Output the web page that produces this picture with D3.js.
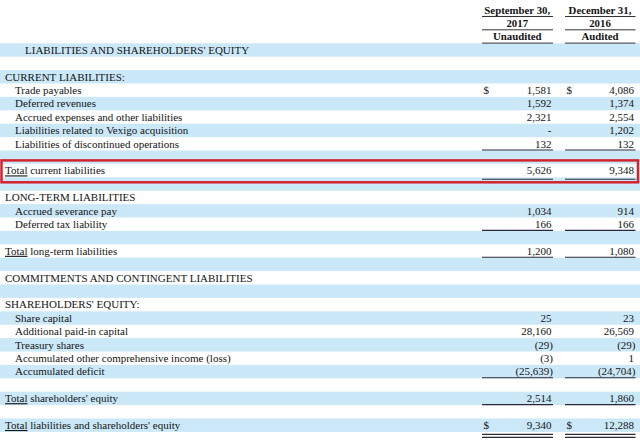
<!DOCTYPE html>
<html><head><meta charset="utf-8">
<script src="https://cdn.jsdelivr.net/npm/d3@7"></script>
<style>
html,body{margin:0;padding:0;background:#fff;}
svg{display:block;font-family:"Liberation Serif","Times New Roman",serif;}
</style></head>
<body>
<svg id="chart" width="640" height="447"></svg>
<script>
// ---- data ----
const headerLines = [["September 30,", "December 31,"], ["2017", "2016"], ["Unaudited", "Audited"]];
const columns = ["2017", "2016"];
const labels = [
  "LIABILITIES AND SHAREHOLDERS' EQUITY", "",
  "CURRENT LIABILITIES:", "Trade payables", "Deferred revenues",
  "Accrued expenses and other liabilities", "Liabilities related to Vexigo acquisition",
  "Liabilities of discontinued operations", "", "Total current liabilities", "",
  "LONG-TERM LIABILITIES", "Accrued severance pay", "Deferred tax liability", "",
  "Total long-term liabilities", "", "COMMITMENTS AND CONTINGENT LIABILITIES", "",
  "SHAREHOLDERS' EQUITY:", "Share capital", "Additional paid-in capital", "Treasury shares",
  "Accumulated other comprehensive income (loss)", "Accumulated deficit", "",
  "Total shareholders' equity", "", "Total liabilities and shareholders' equity"
];
const indent = [2,0,0,1,1,1,1,1,0,0,0,0,1,1,0,0,0,0,0,0,1,1,1,1,1,0,0,0,0];
const values2017 = [null,null,null,1581,1592,2321,"-",132,null,5626,null,null,1034,166,null,1200,null,null,null,null,25,28160,-29,-3,-25639,null,2514,null,9340];
const values2016 = [null,null,null,4086,1374,2554,1202,132,null,9348,null,null,914,166,null,1080,null,null,null,null,23,26569,-29,1,-24704,null,1860,null,12288];
const dollarRows = [3, 28];
const singleRuleRows = [7, 9, 13, 15, 24, 26];
const doubleRuleRows = [28];
const highlightRow = 9;

// ---- drawing ----
const svg = d3.select("#chart");
const W = 640;
const y = d3.scaleBand().domain(d3.range(labels.length)).range([43.3, 43.3 + labels.length * 13.4]);
const colRight = d3.scaleOrdinal().domain(columns).range([551.5, 634]);
const colLeft = d3.scaleOrdinal().domain(columns).range([482, 565]);
const indentX = d3.scaleOrdinal().domain([0,1,2]).range([5, 15, 25]);
const ink = "#141414";
const fmt = d3.format(",");
const fmtVal = v => v === null ? "" : (typeof v === "string" ? v : (v < 0 ? "(" + fmt(-v) + ")" : fmt(v)));

// bands
svg.append("g").selectAll("rect").data(d3.range(labels.length).filter(i => i % 2 === 0)).join("rect")
  .attr("x", 0).attr("width", W).attr("y", i => y(i)).attr("height", y.bandwidth())
  .attr("fill", "#cbe8f9");

// header
const hdr = svg.append("g").attr("font-weight", "bold").attr("font-size", 10.8).attr("fill", ink).attr("text-anchor", "middle");
headerLines.forEach((pair, li) => {
  columns.forEach((c, ci) => {
    const cx = (colLeft(c) + colRight(c) + 1) / 2;
    hdr.append("text").attr("x", cx).attr("y", 13.5 + li * 13.3).text(pair[ci]);
    svg.append("line").attr("x1", colLeft(c)).attr("x2", colRight(c) + 1.5)
      .attr("y1", 16.5 + li * 13.3).attr("y2", 16.5 + li * 13.3)
      .attr("stroke", "#333").attr("stroke-width", 1);
  });
});

// labels
const lab = svg.append("g").attr("font-size", 11).attr("fill", ink);
labels.forEach((t, i) => {
  if (!t) return;
  const tx = lab.append("text").attr("x", indentX(indent[i])).attr("y", y(i) + y.bandwidth() / 2 + 3.8);
  if (t.startsWith("Total")) {
    tx.append("tspan").attr("text-decoration", "underline").style("text-decoration", "underline").text("Total");
    tx.append("tspan").text(t.slice(5));
  } else tx.text(t);
});

// values
const vals = svg.append("g").attr("font-size", 11).attr("fill", ink);
[values2017, values2016].forEach((arr, ci) => {
  const c = columns[ci];
  arr.forEach((v, i) => {
    if (v === null) return;
    const neg = typeof v === "number" && v < 0;
    vals.append("text").attr("x", colRight(c) + (neg ? 1.5 : 0)).attr("text-anchor", "end")
      .attr("y", y(i) + y.bandwidth() / 2 + 3.8).text(fmtVal(v));
  });
  dollarRows.forEach(i => {
    vals.append("text").attr("x", colLeft(c) + 1.5).attr("y", y(i) + y.bandwidth() / 2 + 3.8).text("$");
  });
  singleRuleRows.forEach(i => {
    const yy = y(i) + y.bandwidth() - 0.5 + (i === highlightRow ? 2.5 : 0);
    svg.append("line").attr("x1", colLeft(c)).attr("x2", colRight(c) + 1.5).attr("y1", yy).attr("y2", yy)
      .attr("stroke", "#2a2a3a").attr("stroke-width", 1.1);
  });
  doubleRuleRows.forEach(i => {
    [0, 3].forEach(off => {
      const yy = y(i) + y.bandwidth() + 2.5 + off;
      svg.append("line").attr("x1", colLeft(c)).attr("x2", colRight(c) + 1.5).attr("y1", yy).attr("y2", yy)
        .attr("stroke", "#2a2a3a").attr("stroke-width", 1.1);
    });
  });
});

// highlight box
svg.append("rect").attr("x", 1.5).attr("width", W - 3.5)
  .attr("y", y(highlightRow) - 3.5).attr("height", y.bandwidth() + 8.5)
  .attr("fill", "none").attr("stroke", "#d2232f").attr("stroke-width", 2.5);
</script>
</body></html>
